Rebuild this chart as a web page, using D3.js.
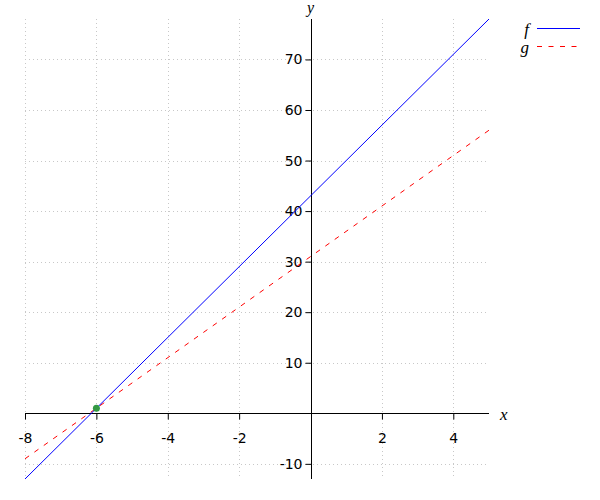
<!DOCTYPE html>
<html><head><meta charset="utf-8">
<script src="https://cdn.jsdelivr.net/npm/d3@7"></script>
<style>body{margin:0;background:#fff}</style>
</head><body>
<script>
const xTicks = [-8, -6, -4, -2, 2, 4];
const yTicks = [-10, 10, 20, 30, 40, 50, 60, 70];
const xGrid = [-8, -6, -4, -2, 0, 2, 4];
const yGrid = [-10, 0, 10, 20, 30, 40, 50, 60, 70];
const fPoints = [[-8, -13], [5, 78]];          // f(x) = 7x + 43
const gPoints = [[-8, -9], [5, 56]];           // g(x) = 5x + 31
const intersection = [[-6, 1]];
const seriesNames = ["f", "g"];

const W = 600, H = 500;
const svg = d3.select("body").append("svg").attr("width", W).attr("height", H);
const x = d3.scaleLinear().domain([-8, 5]).range([25, 489]);
const y = d3.scaleLinear().domain([-13, 78]).range([479, 19]);

// grid
const grid = svg.append("g").attr("stroke", "#c8c8c8").attr("stroke-width", 1).attr("stroke-dasharray", "1,3");
grid.selectAll("line.v").data(xGrid).join("line")
  .attr("x1", d => Math.round(x(d)) + 0.5).attr("x2", d => Math.round(x(d)) + 0.5)
  .attr("y1", y.range()[1]).attr("y2", y.range()[0]);
grid.selectAll("line.h").data(yGrid).join("line")
  .attr("y1", d => Math.round(y(d)) + 0.5).attr("y2", d => Math.round(y(d)) + 0.5)
  .attr("x1", x.range()[0]).attr("x2", x.range()[1]);

// axes through origin
const fmt = d => String(d);
const xAxis = d3.axisBottom(x).tickValues(xTicks).tickSize(6).tickPadding(14).tickFormat(fmt);
const yAxis = d3.axisLeft(y).tickValues(yTicks).tickSize(6).tickPadding(3).tickFormat(fmt);
const gx = svg.append("g").attr("transform", `translate(0,${Math.round(y(0)) + 0.5})`).call(xAxis);
const gy = svg.append("g").attr("transform", `translate(${Math.round(x(0)) + 0.5},0)`).call(yAxis);
[gx, gy].forEach(g => {
  g.select(".domain").remove();
  g.selectAll(".tick line").attr("stroke", "#000");
  g.selectAll(".tick text").attr("font-family", "DejaVu Sans").attr("font-size", 14).attr("fill", "#000");
});
svg.append("line").attr("x1", x.range()[0]).attr("x2", x.range()[1])
  .attr("y1", Math.round(y(0)) + 0.5).attr("y2", Math.round(y(0)) + 0.5).attr("stroke", "#000");
svg.append("line").attr("y1", y.range()[1]).attr("y2", y.range()[0])
  .attr("x1", Math.round(x(0)) + 0.5).attr("x2", Math.round(x(0)) + 0.5).attr("stroke", "#000");

// axis labels
svg.append("text").attr("x", 500).attr("y", 420).text("x")
  .attr("font-family", "Liberation Serif").attr("font-style", "italic").attr("font-size", 17);
svg.append("text").attr("x", 307).attr("y", 13).text("y")
  .attr("font-family", "Liberation Serif").attr("font-style", "italic").attr("font-size", 16);

// lines
const line = d3.line().x(d => x(d[0])).y(d => y(d[1]));
svg.append("clipPath").attr("id", "c").append("rect")
  .attr("x", x.range()[0]).attr("y", y.range()[1]).attr("width", x.range()[1] - x.range()[0]).attr("height", y.range()[0] - y.range()[1]);
svg.append("path").datum(gPoints).attr("d", line).attr("fill", "none").attr("stroke", "#ff0000")
  .attr("stroke-width", 1).attr("stroke-dasharray", "5,6.5").attr("clip-path", "url(#c)");
svg.append("path").datum(fPoints).attr("d", line).attr("fill", "none").attr("stroke", "#0000ff")
  .attr("stroke-width", 1).attr("clip-path", "url(#c)");

svg.selectAll("circle.pt").data(intersection).join("circle")
  .attr("cx", d => x(d[0])).attr("cy", d => y(d[1])).attr("r", 3.5).attr("fill", "#339944");

// legend
const leg = svg.append("g");
const legStyles = [{c: "#0000ff", dash: null}, {c: "#ff0000", dash: "5,6.5"}];
seriesNames.forEach((n, i) => {
  const yy = 29 + i * 18;
  leg.append("text").attr("x", 529).attr("y", yy + 6).attr("text-anchor", "end").text(n)
    .attr("font-family", "Liberation Serif").attr("font-style", "italic").attr("font-size", 17);
  leg.append("line").attr("x1", 537).attr("x2", 580).attr("y1", yy - 0.5).attr("y2", yy - 0.5)
    .attr("stroke", legStyles[i].c).attr("stroke-dasharray", legStyles[i].dash);
});
</script>
</body></html>
